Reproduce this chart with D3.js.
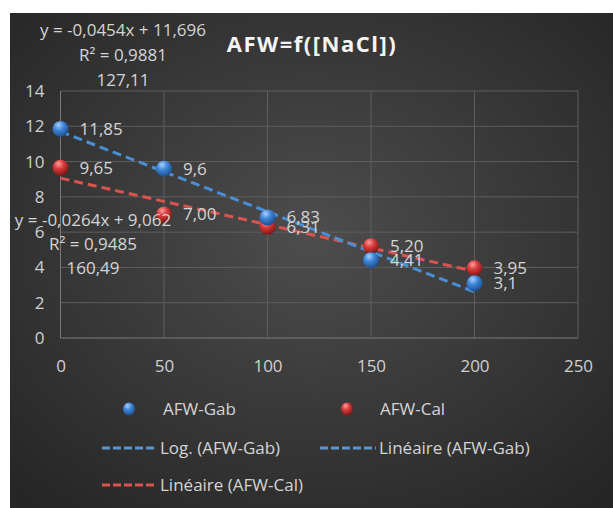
<!DOCTYPE html>
<html><head><meta charset="utf-8">
<script src="https://cdn.jsdelivr.net/npm/d3@7"></script>
<style>body{margin:0;background:#fff;} svg{display:block;}</style>
</head><body>
<script>
const xValues = [0, 50, 100, 150, 200];
const gabValues = [11.85, 9.6, 6.83, 4.41, 3.1];
const calValues = [9.65, 7.00, 6.31, 5.20, 3.95];
const gabLabels = ["11,85", "9,6", "6,83", "4,41", "3,1"];
const calLabels = ["9,65", "7,00", "6,31", "5,20", "3,95"];
const xTicks = [0, 50, 100, 150, 200, 250];
const yTicks = [0, 2, 4, 6, 8, 10, 12, 14];
const gabTrend = {slope: -0.0454, intercept: 11.696};
const calTrend = {slope: -0.0264, intercept: 9.062};
const gabEq = ["y = -0,0454x + 11,696", "R² = 0,9881", "127,11"];
const calEq = ["y = -0,0264x + 9,062", "R² = 0,9485", "160,49"];
const title = "AFW=f([NaCl])";

const W = 613, H = 508;
const FONT = "'Open Sans', 'Noto Sans', sans-serif";
const FS = "17px";
const svg = d3.select("body").append("svg").attr("width", W).attr("height", H);
const defs = svg.append("defs");

const bg = defs.append("radialGradient").attr("id","bg").attr("cx","50%").attr("cy","45%").attr("r","70%");
bg.append("stop").attr("offset","0%").attr("stop-color","#4d4d4d");
bg.append("stop").attr("offset","100%").attr("stop-color","#262626");

function sphere(id, light, mid, dark){
  const g = defs.append("radialGradient").attr("id",id).attr("cx","40%").attr("cy","30%").attr("r","70%").attr("fx","38%").attr("fy","25%");
  g.append("stop").attr("offset","0%").attr("stop-color",light);
  g.append("stop").attr("offset","45%").attr("stop-color",mid);
  g.append("stop").attr("offset","100%").attr("stop-color",dark);
}
sphere("sBlue", "#a9d0ff", "#3f86d8", "#1d4f8f");
sphere("sRed", "#ff9c9c", "#d83a3a", "#7d1717");

svg.append("rect").attr("x",10).attr("y",13).attr("width",W-10).attr("height",H-13).attr("fill","url(#bg)");

const x = d3.scaleLinear().domain([0,250]).range([60.5,578]);
const y = d3.scaleLinear().domain([0,14]).range([338,91]);

// gridlines
const grid = svg.append("g");
grid.selectAll(".hg").data(yTicks).join("line")
  .attr("x1",x(0)).attr("x2",x(250)).attr("y1",d=>y(d)).attr("y2",d=>y(d))
  .attr("stroke", d=> d===0 ? "#7a7a7a" : "#5e5e5e").attr("stroke-width",1);
grid.selectAll(".vg").data(xTicks).join("line")
  .attr("x1",d=>x(d)).attr("x2",d=>x(d)).attr("y1",y(0)).attr("y2",y(14))
  .attr("stroke", d=> d===0 ? "#7a7a7a" : "#5e5e5e").attr("stroke-width",1);

// axes via d3
const xAxis = svg.append("g").attr("transform",`translate(0,${y(0)})`)
  .call(d3.axisBottom(x).tickValues(xTicks).tickSize(0).tickPadding(21));
const yAxis = svg.append("g").attr("transform",`translate(${x(0)},0)`)
  .call(d3.axisLeft(y).tickValues(yTicks).tickSize(0).tickPadding(16));
[xAxis,yAxis].forEach(a=>{
  a.select(".domain").remove();
  a.selectAll("text").attr("fill","#d0d0d0").attr("font-size",FS).attr("font-family",FONT);
});
xAxis.selectAll("text").attr("dy","0.35em").attr("y",28);

// trendlines
function trend(t, color){
  svg.append("line")
    .attr("x1",x(0)).attr("y1",y(t.intercept))
    .attr("x2",x(200)).attr("y2",y(t.intercept + t.slope*200))
    .attr("stroke",color).attr("stroke-width",3).attr("stroke-dasharray","9,5");
}
trend(calTrend, "#d9534f");
trend(gabTrend, "#4a8fd6");

// markers
function markers(vals, fill){
  svg.append("g").selectAll("circle").data(vals).join("circle")
    .attr("cx",(d,i)=>x(xValues[i])).attr("cy",d=>y(d)).attr("r",8)
    .attr("fill",fill);
}
markers(calValues, "url(#sRed)");
markers(gabValues, "url(#sBlue)");

// data labels
function labels(vals, texts){
  svg.append("g").selectAll("text").data(vals).join("text")
    .attr("x",(d,i)=>x(xValues[i])+19).attr("y",d=>y(d))
    .attr("dy","0.35em").attr("fill","#d4d4d4").attr("font-size",FS).attr("font-family",FONT)
    .text((d,i)=>texts[i]);
}
labels(gabValues, gabLabels);
labels(calValues, calLabels);

// equations
function eq(lines, cx, ys){
  svg.append("g").selectAll("text").data(lines).join("text")
    .attr("x",cx).attr("y",(d,i)=>ys[i]).attr("dy","0.35em").attr("text-anchor","middle")
    .attr("fill","#d4d4d4").attr("font-size",FS).attr("font-family",FONT)
    .text(d=>d);
}
eq(gabEq, 123, [30,55,80]);
eq(calEq, 93, [220,244,268]);

// title
svg.append("text").attr("x",312).attr("y",44).attr("dy","0.35em").attr("text-anchor","middle")
  .attr("fill","#f4f4f4").attr("font-size","22px").attr("font-weight","bold").attr("font-family",FONT)
  .attr("letter-spacing","1.5px").text(title);

// legend
const lg = svg.append("g").attr("font-family",FONT).attr("font-size",FS).attr("fill","#d4d4d4");
function legMarker(cx, cy, fill, txt, tx){
  lg.append("ellipse").attr("cx",cx).attr("cy",cy).attr("rx",6).attr("ry",6.5).attr("fill",fill);
  lg.append("text").attr("x",tx).attr("y",cy).attr("dy","0.35em").text(txt);
}
function legLine(x1, x2, cy, color, txt){
  lg.append("line").attr("x1",x1).attr("x2",x2).attr("y1",cy).attr("y2",cy)
    .attr("stroke",color).attr("stroke-width",3).attr("stroke-dasharray","8,3");
  lg.append("text").attr("x",x2+3).attr("y",cy).attr("dy","0.35em").text(txt);
}
legMarker(129, 409, "url(#sBlue)", "AFW-Gab", 163);
legMarker(347, 409, "url(#sRed)", "AFW-Cal", 380);
legLine(102, 157, 448, "#5b95d0", "Log. (AFW-Gab)");
legLine(320, 376, 448, "#5b95d0", "Linéaire (AFW-Gab)");
legLine(102, 157, 485, "#d9534f", "Linéaire (AFW-Cal)");
</script>
</body></html>
